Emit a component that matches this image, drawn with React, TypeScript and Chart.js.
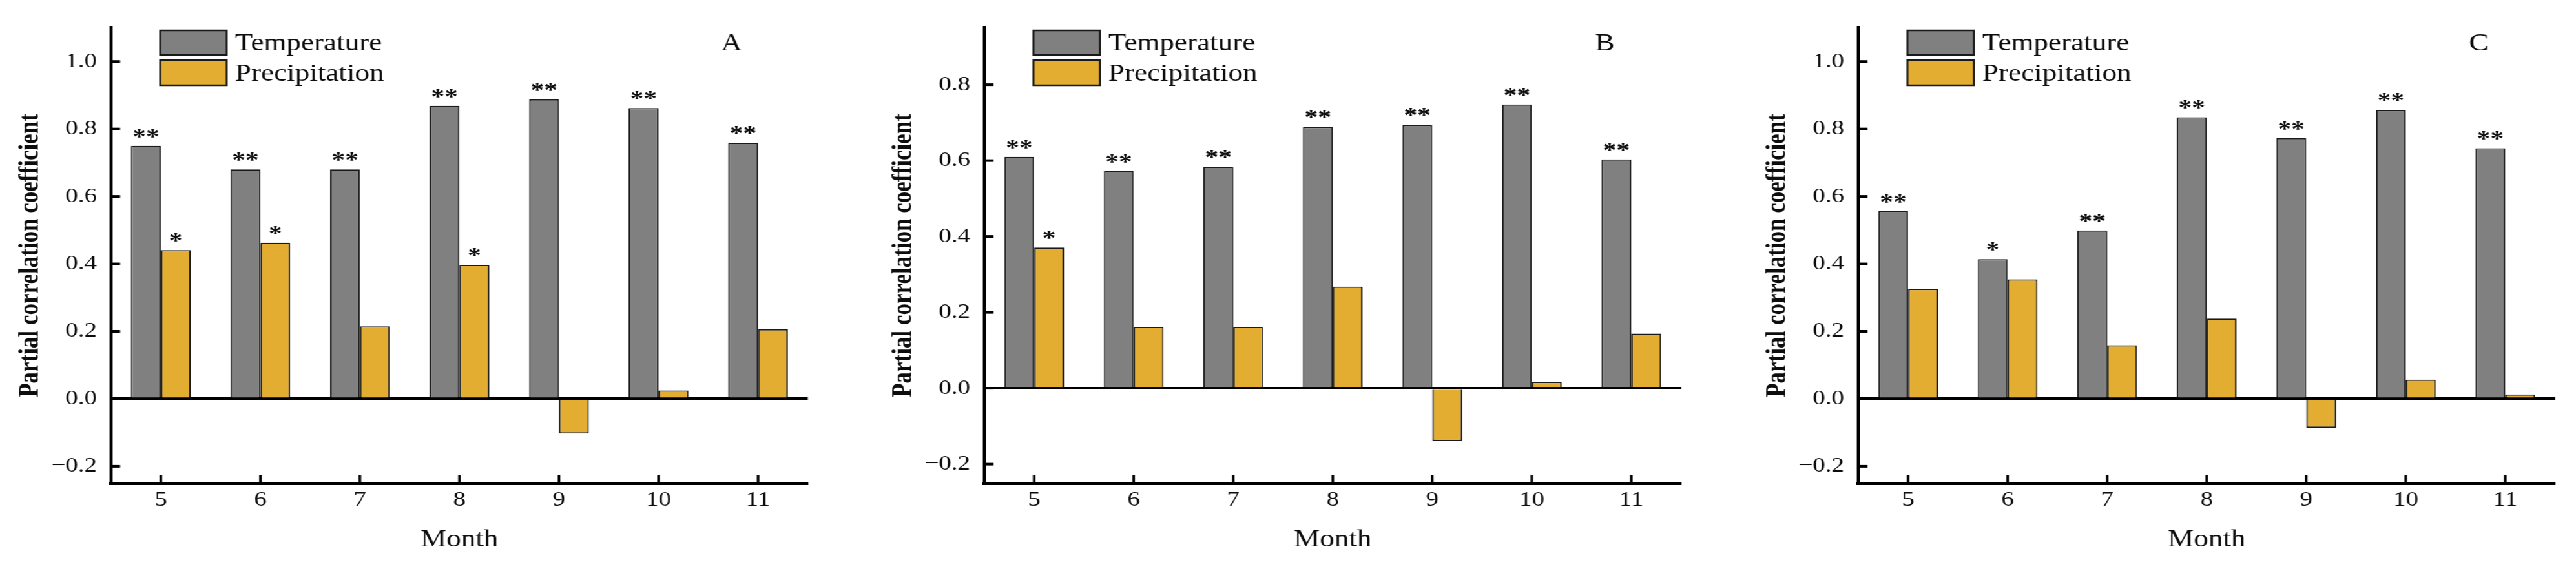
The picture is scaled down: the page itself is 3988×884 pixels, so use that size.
import { useEffect, useRef } from 'react';
import { Chart, registerables } from 'chart.js';

Chart.register(...registerables);

const months = ['5', '6', '7', '8', '9', '10', '11'];

// panel A
const tempA = [0.75, 0.68, 0.68, 0.869, 0.888, 0.862, 0.759];
const precA = [0.441, 0.463, 0.215, 0.397, -0.103, 0.025, 0.206];
const tempSigA = ['**', '**', '**', '**', '**', '**', '**'];
const precSigA = ['*', '*', '', '*', '', '', ''];

// panel B
const tempB = [0.61, 0.572, 0.584, 0.689, 0.694, 0.748, 0.603];
const precB = [0.371, 0.162, 0.162, 0.268, -0.139, 0.017, 0.144];
const tempSigB = ['**', '**', '**', '**', '**', '**', '**'];
const precSigB = ['*', '', '', '', '', '', ''];

// panel C
const tempC = [0.557, 0.414, 0.499, 0.835, 0.773, 0.856, 0.743];
const precC = [0.326, 0.354, 0.159, 0.238, -0.086, 0.057, 0.013];
const tempSigC = ['**', '*', '**', '**', '**', '**', '**'];
const precSigC = ['', '', '', '', '', '', ''];

const yTicksAC = [-0.2, 0, 0.2, 0.4, 0.6, 0.8, 1.0];
const yTicksB = [-0.2, 0, 0.2, 0.4, 0.6, 0.8];

const GRAY = '#808080';
const GOLD = '#E2AD30';
const EDGE = '#1a1a1a';
const INK = '#0d0d0d';
const SERIF = "'Liberation Serif', 'Times New Roman', serif";

// the original figure is stretched sideways, so the canvas is too
const SX = 1.22;
const W = 1052;
const H = 884;

const panels = [
  { letter: 'A', left: 0, temp: tempA, prec: precA, sig: [tempSigA, precSigA], max: 1.1, ticks: yTicksAC },
  { letter: 'B', left: 1352, temp: tempB, prec: precB, sig: [tempSigB, precSigB], max: 0.95, ticks: yTicksB },
  { letter: 'C', left: 2705, temp: tempC, prec: precC, sig: [tempSigC, precSigC], max: 1.1, ticks: yTicksAC },
];

const sigMarks = {
  id: 'sigMarks',
  afterDatasetsDraw(chart: any, _args: any, opts: any) {
    const { ctx } = chart;
    ctx.save();
    ctx.font = `bold 34px ${SERIF}`;
    ctx.fillStyle = INK;
    ctx.textAlign = 'center';
    ctx.textBaseline = 'alphabetic';
    opts.marks.forEach((marks: string[], i: number) => {
      chart.getDatasetMeta(i).data.forEach((bar: any, j: number) => {
        if (marks[j]) ctx.fillText(marks[j], bar.x, bar.y - 4);
      });
    });
    ctx.restore();
  },
};

const panelDecor = {
  id: 'panelDecor',
  afterDraw(chart: any, _args: any, opts: any) {
    const { ctx, chartArea, scales } = chart;
    const { left, bottom } = chartArea;
    ctx.save();

    // tick marks point inwards
    ctx.strokeStyle = '#000';
    ctx.lineWidth = 4;
    scales.y.ticks.forEach((_t: any, i: number) => {
      const py = scales.y.getPixelForTick(i);
      ctx.beginPath();
      ctx.moveTo(left, py);
      ctx.lineTo(left + 14 / SX, py);
      ctx.stroke();
    });
    ctx.lineWidth = 4 / SX;
    scales.x.ticks.forEach((_t: any, i: number) => {
      const px = scales.x.getPixelForTick(i);
      ctx.beginPath();
      ctx.moveTo(px, bottom);
      ctx.lineTo(px, bottom - 13);
      ctx.stroke();
    });

    // legend
    const bx = left + 76 / SX;
    const bw = 103 / SX;
    const rows = [
      [47, 85],
      [93, 132],
    ];
    ctx.font = `37px ${SERIF}`;
    ctx.textAlign = 'left';
    ctx.textBaseline = 'alphabetic';
    chart.data.datasets.forEach((ds: any, i: number) => {
      const [y0, y1] = rows[i];
      ctx.fillStyle = ds.backgroundColor;
      ctx.fillRect(bx, y0, bw, y1 - y0);
      ctx.lineWidth = 2.5;
      ctx.strokeStyle = EDGE;
      ctx.strokeRect(bx, y0, bw, y1 - y0);
      ctx.fillStyle = INK;
      ctx.fillText(ds.label, bx + bw + 13 / SX, (y0 + y1) / 2 + 12);
    });

    // panel letter
    ctx.textAlign = 'center';
    ctx.fillText(opts.letter, left + 961 / SX, 78);
    ctx.restore();
  },
};

function Panel({ p }: { p: (typeof panels)[number] }) {
  const chartRef = useRef<HTMLCanvasElement | null>(null);

  useEffect(() => {
    if (!chartRef.current) return;

    const chart = new Chart(chartRef.current, {
      type: 'bar',
      data: {
        labels: months,
        datasets: [
          {
            label: 'Temperature',
            data: p.temp,
            backgroundColor: GRAY,
            borderColor: EDGE,
            borderWidth: 2,
          },
          {
            label: 'Precipitation',
            data: p.prec,
            backgroundColor: GOLD,
            borderColor: EDGE,
            borderWidth: 2,
          },
        ],
      },
      options: {
        responsive: false,
        animation: false,
        layout: { padding: { top: 43, left: 0, bottom: 0, right: W - 1251 / SX } },
        datasets: { bar: { categoryPercentage: 0.6, barPercentage: 1 } },
        plugins: {
          legend: { display: false },
          tooltip: { enabled: false },
          sigMarks: { marks: p.sig },
          panelDecor: { letter: p.letter },
        } as any,
        scales: {
          x: {
            z: 1,
            grid: { display: false, drawTicks: false },
            border: { color: '#000', width: 5 },
            ticks: {
              color: INK,
              font: { family: SERIF, size: 32 },
              padding: 7,
              maxRotation: 0,
              autoSkip: false,
            },
            title: {
              display: true,
              text: 'Month',
              color: INK,
              font: { family: SERIF, size: 37 },
              padding: { top: 0, bottom: 26 },
            },
            afterFit: (scale: any) => {
              scale.height = H - 748;
            },
          },
          y: {
            z: 1,
            min: -0.25,
            max: p.max,
            afterBuildTicks: (scale: any) => {
              scale.ticks = p.ticks.map((v) => ({ value: v }));
            },
            grid: {
              drawTicks: false,
              color: (c: any) => (c.tick && c.tick.value === 0 ? '#000' : 'rgba(0,0,0,0)'),
              lineWidth: (c: any) => (c.tick && c.tick.value === 0 ? 4 : 1),
            },
            border: { color: '#000', width: 4 },
            ticks: {
              color: INK,
              font: { family: SERIF, size: 32 },
              padding: 18,
              callback: (v: any) => (v < 0 ? '\u2212' : '') + Math.abs(v).toFixed(1),
            },
            title: {
              display: true,
              text: 'Partial correlation coefficient',
              color: INK,
              font: { family: SERIF, size: 35, weight: 'bold' },
              padding: { top: 18, bottom: 0 },
            },
            afterFit: (scale: any) => {
              scale.width = 172 / SX;
            },
          },
        },
      },
      plugins: [sigMarks, panelDecor],
    });

    return () => {
      chart.destroy();
    };
  }, [p]);

  return (
    <canvas
      ref={chartRef}
      width={W}
      height={H}
      style={{ position: 'absolute', left: p.left, top: 0, width: W * SX, height: H }}
    ></canvas>
  );
}

export default function App() {
  return (
    <div
      style={{
        position: 'absolute',
        left: 0,
        top: 0,
        width: 3988,
        height: 884,
        overflow: 'hidden',
        background: '#fff',
      }}
    >
      {panels.map((p) => (
        <Panel key={p.letter} p={p} />
      ))}
    </div>
  );
}
